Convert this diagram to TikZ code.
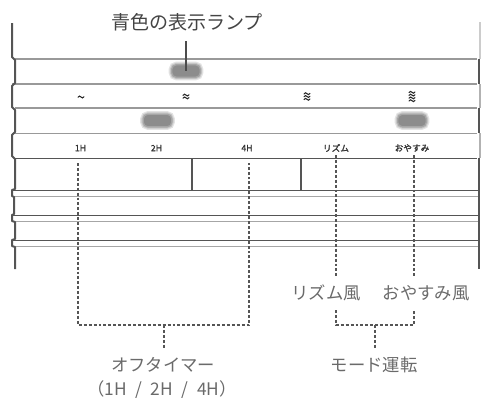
\documentclass[tikz,border=0pt]{standalone}
\usepackage{fontspec}
\setmainfont{Noto Sans CJK JP}
\newfontfamily\jpbold[FakeBold=1.6]{Noto Sans CJK JP}
\definecolor{edge}{HTML}{555555}
\definecolor{thin}{HTML}{999999}
\definecolor{lbl}{HTML}{6A6A6A}
\definecolor{toplbl}{HTML}{444444}
\tikzset{
  edgeline/.style={draw=edge, line width=1.5pt, line join=round},
  bandline/.style={draw=thin, line width=0.8pt},
  darkline/.style={draw=edge, line width=0.9pt},
  softline/.style={draw=black!35, line width=0.8pt},
  guide/.style={draw=edge, line width=0.8pt, dash pattern=on 2.2pt off 1.5pt},
  lamp/.style={rounded corners=3.5pt, fill=gray!90, minimum width=21.5pt, minimum height=9.5pt, inner sep=0pt,
    preaction={draw=gray!22, line width=4.5pt}, preaction={draw=gray!45, line width=2.6pt},
    draw=gray!70, line width=1pt},
  smalltxt/.style={font=\jpbold\fontsize{6.5}{7.5}\selectfont, text=black!80, inner sep=0pt},
  bigtxt/.style={font=\fontsize{13}{15}\selectfont, text=lbl, inner sep=0pt},
  toptxt/.style={font=\fontsize{14.3}{16}\selectfont, text=toplbl, inner sep=0pt},
  tilde/.style={draw=black!85, line width=0.8pt, line cap=round}
}
\begin{document}
\begin{tikzpicture}[x=0.75pt, y=-0.75pt]
\useasboundingbox (0,0) rectangle (481,397);
% horizontal band lines
\draw[bandline] (15,59) -- (477,59);
\draw[bandline] (12,84) -- (477,84);
\draw[bandline] (15,108) -- (477,108);
\draw[bandline] (12,133.5) -- (477,133.5);
\draw[darkline] (15,158.5) -- (477,158.5);
\foreach \y in {190.5,215.5,240.5}{
  \draw[darkline] (12,\y) -- (478,\y);
  \draw[softline] (12,\y+6) -- (478,\y+6);
}
% left edge
\draw[edgeline] (12,23) -- (12,57) -- (15,60) -- (15,83) -- (12,86) -- (12,107) -- (15,110) -- (15,132)
  -- (12,135) -- (12,156) -- (15,159) -- (15,189) -- (12,190) -- (12,196) -- (14,197) -- (14,214)
  -- (12,215) -- (12,221) -- (15,222) -- (15,239) -- (12,240) -- (12,246) -- (15,247) -- (15,269);
% right edge
\draw[draw=black!20, line width=0.8pt] (480,22) -- (480,59);
\draw[draw=black!30, line width=0.8pt] (480,84) -- (480,108);
\draw[draw=black!30, line width=0.8pt] (480,133) -- (480,158);
\draw[edgeline] (479,59) -- (479,84);
\draw[edgeline] (479,108) -- (479,133);
\draw[edgeline] (479,158) -- (479,269);
% center rectangle
\draw[darkline] (192,158.5) rectangle (301,190.5);
% lamps
\node[lamp] (lampA) at (186,71) {};
\node[lamp] (lampB) at (157.5,120.5) {};
\node[lamp] (lampC) at (412,120.5) {};
% lamp label
\node[toptxt] (lblLamp) at (187,22) {青色の表示ランプ};
\coordinate (lampTop) at (186,41);
\draw[draw=black!70, line width=0.9pt] (lampTop) -- (lampA.center);
% wind symbols
\foreach \cx/\cy/\n in {81/97/1, 186/96.5/2, 307/96.5/3, 412/96.5/4}{
  \foreach \k in {1,...,\n}{
    \pgfmathsetmacro{\yy}{\cy + (\k - (\n+1)/2)*2.8}
    \draw[tilde] (\cx-3,\yy+0.3) sin (\cx-1.5,\yy-0.9) cos (\cx,\yy) sin (\cx+1.5,\yy+0.9) cos (\cx+3,\yy-0.3);
  }
}
% small labels
\node[smalltxt] (t1H) at (80.5,148) {1H};
\node[smalltxt] (t2H) at (156.5,148) {2H};
\node[smalltxt] (t4H) at (247,148) {4H};
\node[smalltxt] (tRhythm) at (336,148) {リズム};
\node[smalltxt] (tOyasumi) at (412,148) {おやすみ};
% bottom labels
\node[bigtxt] (lblRhythm) at (326,293) {リズム風};
\node[bigtxt] (lblOyasumi) at (426,293) {おやすみ風};
\node[bigtxt] (lblMode) at (374,365) {モード運転};
\node[bigtxt] (lblTimer) at (163,365) {オフタイマー};
\node[bigtxt] (lblTimer2) at (162,390) {（1H\hspace{6.5pt}/\hspace{6.5pt}2H\hspace{6.5pt}/\hspace{6.5pt}4H）};
% timer guides
\coordinate (g1top) at (78,163);
\coordinate (g4top) at (249,163);
\coordinate (g1bot) at (78,325);
\coordinate (g4bot) at (249,325);
\coordinate (gTmid) at (164,325);
\coordinate (gTend) at (164,349);
\draw[guide] (g1top) -- (g1bot) -- (g4bot) -- (g4top);
\draw[guide] (gTmid) -- (gTend);
% mode guides
\coordinate (rTop) at (336,155);
\coordinate (rMid) at (336,277);
\coordinate (rLow) at (336,310);
\coordinate (rBot) at (336,325);
\coordinate (oTop) at (414,155);
\coordinate (oMid) at (414,277);
\coordinate (oLow) at (414,310);
\coordinate (oBot) at (414,325);
\coordinate (mMid) at (375,325);
\coordinate (mEnd) at (375,348);
\draw[guide] (rTop) -- (rMid);
\draw[guide] (oTop) -- (oMid);
\draw[guide] (rLow) -- (rBot) -- (oBot) -- (oLow);
\draw[guide] (mMid) -- (mEnd);
\end{tikzpicture}
\end{document}
